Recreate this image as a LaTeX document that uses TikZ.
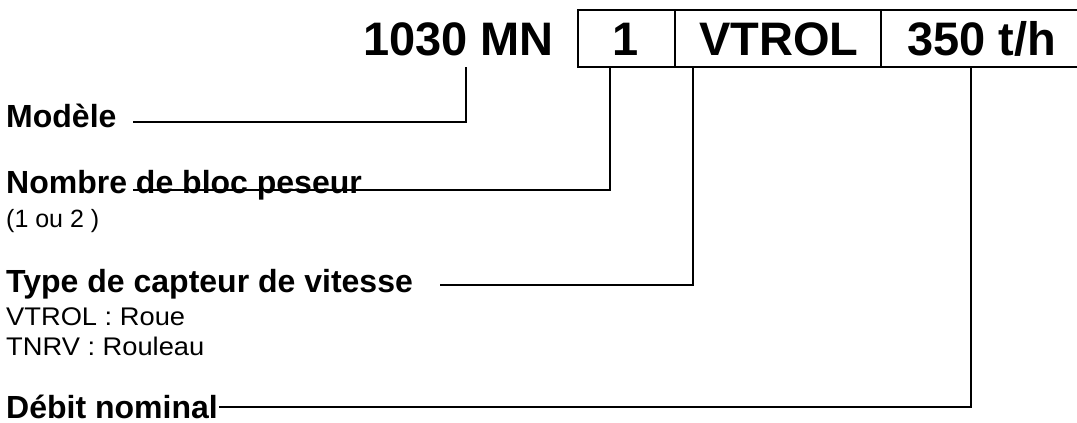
\documentclass[tikz,border=0pt]{standalone}
\usepackage{fontspec}
\setmainfont{Liberation Sans}
\newfontfamily\widesans[FakeStretch=1.07]{Liberation Sans}
\begin{document}
\begin{tikzpicture}[x=1pt,y=-1pt,
  big/.style={font=\bfseries\fontsize{47}{52}\selectfont, inner sep=0pt, anchor=base},
  lbl/.style={font=\bfseries\fontsize{32}{36}\selectfont, inner sep=0pt, anchor=base west},
  small/.style={font=\fontsize{25}{29}\selectfont, inner sep=0pt, anchor=base west},
  smallwide/.style={font=\widesans\fontsize{25.5}{29}\selectfont, inner sep=0pt, anchor=base west},
  cell/.style={draw, line width=2.4pt, minimum height=57pt, inner sep=0pt},
  conn/.style={draw, line width=2pt}]
\useasboundingbox (0,0) rectangle (1077,423);
\begin{scope}
\clip (0,0) rectangle (1077,423);
% code cells
\node[cell, minimum width=97pt] (c1) at (626.5,38.5) {};
\node[cell, minimum width=206pt] (c2) at (778,38.5) {};
\node[cell, minimum width=205pt] (c3) at (983.5,38.5) {};
\end{scope}
\node[big, anchor=base west] (model) at (363,55) {1030 MN};
\node[big] (t1) at (625.5,55) {1};
\node[big] (t2) at (779,55) {VTROL};
\node[big] (t3) at (982,55) {350 t/h};
% labels
\node[lbl] (modele) at (6,127) {Modèle};
\node[lbl] (nombre) at (6,193) {Nombre de bloc peseur};
\node[small] (n1) at (6,227) {(1 ou 2 )};
\node[lbl] (type) at (6,292) {Type de capteur de vitesse};
\node[smallwide] (v1) at (6,325) {VTROL : Roue};
\node[smallwide] (v2) at (6,355) {TNRV : Rouleau};
\node[lbl] (debit) at (6,418) {Débit nominal};
% connector ends
\coordinate (mA) at (466,67);
\coordinate (mB) at (133,122);
\coordinate (nA) at (610,67);
\coordinate (nB) at (133,190);
\coordinate (tA) at (693,67);
\coordinate (tB) at (440,285);
\coordinate (dA) at (971,67);
\coordinate (dB) at ([xshift=1pt]debit.base east |- 0,407);
\draw[conn] (mA) |- (mB);
\draw[conn] (nA) |- (nB);
\draw[conn] (tA) |- (tB);
\draw[conn] (dA) |- (dB);
\end{tikzpicture}
\end{document}
